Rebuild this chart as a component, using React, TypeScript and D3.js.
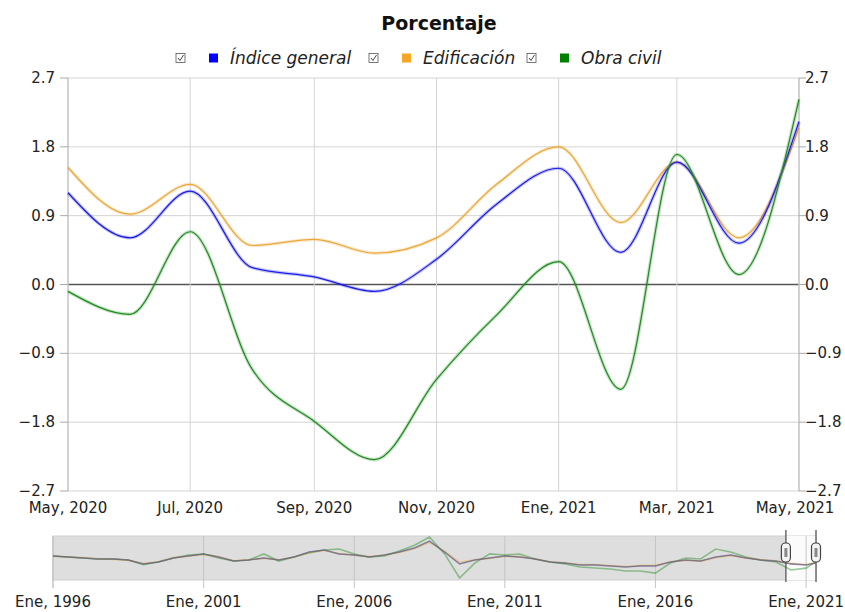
import React, { useEffect, useRef } from "react";
import * as d3 from "d3";

// main chart: monthly values, May 2020 .. May 2021
const months = [
  "2020-05", "2020-06", "2020-07", "2020-08", "2020-09", "2020-10", "2020-11",
  "2020-12", "2021-01", "2021-02", "2021-03", "2021-04", "2021-05",
];
const indiceGeneral = [1.2, 0.61, 1.22, 0.22, 0.1, -0.09, 0.33, 1.05, 1.52, 0.42, 1.6, 0.54, 2.13];
const edificacion = [1.53, 0.92, 1.31, 0.51, 0.59, 0.41, 0.61, 1.31, 1.8, 0.81, 1.6, 0.61, 2.05];
const obraCivil = [-0.09, -0.39, 0.69, -1.11, -1.79, -2.29, -1.24, -0.4, 0.3, -1.37, 1.7, 0.13, 2.42];

const yTicks = [-2.7, -1.8, -0.9, 0, 0.9, 1.8, 2.7];
const xTickLabels = ["May, 2020", "Jul, 2020", "Sep, 2020", "Nov, 2020", "Ene, 2021", "Mar, 2021", "May, 2021"];
const xTickMonths = ["2020-05", "2020-07", "2020-09", "2020-11", "2021-01", "2021-03", "2021-05"];

// navigator: semi-annual readings Jan 1996 .. Jan 2021, plus May 2021
const navMonths = [
  "1996-01", "1996-07", "1997-01", "1997-07", "1998-01", "1998-07", "1999-01", "1999-07",
  "2000-01", "2000-07", "2001-01", "2001-07", "2002-01", "2002-07", "2003-01", "2003-07",
  "2004-01", "2004-07", "2005-01", "2005-07", "2006-01", "2006-07", "2007-01", "2007-07",
  "2008-01", "2008-07", "2009-01", "2009-07", "2010-01", "2010-07", "2011-01", "2011-07",
  "2012-01", "2012-07", "2013-01", "2013-07", "2014-01", "2014-07", "2015-01", "2015-07",
  "2016-01", "2016-07", "2017-01", "2017-07", "2018-01", "2018-07", "2019-01", "2019-07",
  "2020-01", "2020-07", "2021-01", "2021-05",
];
const navGeneral = [5.2, 4.6, 4.0, 3.4, 3.4, 2.8, 0.5, 1.6, 4.0, 5.2, 6.4, 4.6, 2.2, 2.8, 4.0, 2.8, 4.6, 7.5, 8.7, 6.4, 5.8, 4.6, 5.8, 7.5, 9.9, 14.0, 7.5, 0.5, 2.8, 4.0, 5.2, 4.6, 3.4, 1.6, 1.0, -0.1, -0.1, -0.7, -1.3, -0.7, -0.7, 1.6, 2.8, 2.2, 4.6, 5.8, 4.0, 2.8, 2.2, 0.5, -0.1, 1.0];
const navEdif = [5.0, 4.5, 4.2, 3.6, 3.2, 2.6, 0.8, 1.8, 4.2, 5.0, 6.0, 4.8, 2.4, 3.0, 3.8, 3.0, 4.4, 7.2, 8.4, 6.6, 5.6, 4.8, 5.6, 7.2, 9.4, 13.2, 8.0, 1.5, 3.0, 3.8, 5.0, 4.8, 3.6, 1.8, 1.2, 0.2, 0.2, -0.4, -1.0, -0.4, -0.2, 1.8, 2.6, 2.0, 4.2, 5.4, 4.2, 3.0, 2.4, 0.8, 0.2, 1.2];
const navCivil = [5.2, 4.6, 4.0, 3.4, 3.4, 2.8, 0.0, 1.6, 4.0, 5.8, 6.4, 4.0, 2.2, 2.8, 6.4, 2.2, 4.6, 7.0, 8.7, 9.3, 6.4, 4.6, 5.2, 8.1, 11.5, 16.4, 6.4, -7.8, 1.0, 6.4, 5.8, 6.4, 3.4, 1.6, 0.5, -1.3, -1.9, -2.5, -3.7, -3.7, -4.9, 1.0, 4.0, 3.4, 9.3, 7.5, 4.6, 2.8, 1.6, -3.1, -2.0, 2.0];
const navTickLabels = ["Ene, 1996", "Ene, 2001", "Ene, 2006", "Ene, 2011", "Ene, 2016", "Ene, 2021"];
const navTickMonths = ["1996-01", "2001-01", "2006-01", "2011-01", "2016-01", "2021-01"];

const seriesNames = ["Índice general", "Edificación", "Obra civil"];
const seriesColors = ["#1a1ae6", "#eaa83a", "#1e8c1e"];
const legendColors = ["#0000ff", "#f5a623", "#008000"];

const FONT = "'DejaVu Sans', sans-serif";
const parse = d3.timeParse("%Y-%m");

export default function App() {
  const ref = useRef<SVGSVGElement>(null);

  useEffect(() => {
    const svg = d3.select(ref.current);
    svg.selectAll("*").remove();

    const left = 68, right = 799, top = 78, bottom = 491;
    const x = d3.scaleTime().domain([parse("2020-05")!, parse("2021-05")!]).range([left, right]);
    const y = d3.scaleLinear().domain([-2.7, 2.7]).range([bottom, top]);

    svg.append("text")
      .attr("x", 439).attr("y", 30)
      .attr("text-anchor", "middle")
      .style("font-family", FONT).style("font-size", "19px").style("font-weight", "bold")
      .style("fill", "#111")
      .text("Porcentaje");

    // legend
    const legend = svg.append("g");
    const legX = [176, 369, 527];
    seriesNames.forEach((name, i) => {
      const g = legend.append("g").attr("transform", `translate(${legX[i]},58)`);
      g.append("rect").attr("x", 0).attr("y", -4.5).attr("width", 9).attr("height", 9)
        .attr("fill", "#fff").attr("stroke", "#555").attr("stroke-width", 0.8);
      g.append("path").attr("d", "M2,0 L4,2.5 L7.5,-3").attr("fill", "none")
        .attr("stroke", "#333").attr("stroke-width", 0.9);
      g.append("rect").attr("x", 33).attr("y", -4.5).attr("width", 9).attr("height", 9)
        .attr("fill", legendColors[i]);
      g.append("text").attr("x", 54).attr("y", 6)
        .style("font-family", FONT).style("font-size", "17px").style("font-style", "italic")
        .style("fill", "#222").text(name);
    });

    // grid
    const grid = svg.append("g");
    grid.selectAll(".hg").data(yTicks).join("line")
      .attr("x1", left).attr("x2", right)
      .attr("y1", d => y(d)).attr("y2", d => y(d))
      .attr("stroke", d => (d === 0 ? "#555" : "#d4d4d4"))
      .attr("stroke-width", d => (d === 0 ? 1.5 : 1));
    grid.selectAll(".vg").data(xTickMonths).join("line")
      .attr("x1", d => x(parse(d)!)).attr("x2", d => x(parse(d)!))
      .attr("y1", top).attr("y2", bottom)
      .attr("stroke", "#d4d4d4");

    // left / right axes
    [left, right].forEach((ax, side) => {
      svg.append("line").attr("x1", ax).attr("x2", ax).attr("y1", top).attr("y2", bottom)
        .attr("stroke", "#bbb");
      svg.selectAll(null).data(yTicks).join("line")
        .attr("x1", side === 0 ? ax - 8 : ax).attr("x2", side === 0 ? ax : ax + 7)
        .attr("y1", d => y(d)).attr("y2", d => y(d)).attr("stroke", "#aaa");
      svg.selectAll(null).data(yTicks).join("text")
        .attr("x", side === 0 ? ax - 13 : ax + 6)
        .attr("y", d => y(d) + 5)
        .attr("text-anchor", side === 0 ? "end" : "start")
        .style("font-family", FONT).style("font-size", "15px").style("fill", "#222")
        .text(d => d3.format(".1f")(d));
    });

    svg.selectAll(".xl").data(xTickMonths).join("text")
      .attr("x", (d, i) => x(parse(d)!) + (i === xTickMonths.length - 1 ? -4 : 0))
      .attr("y", 513)
      .attr("text-anchor", "middle")
      .style("font-family", FONT).style("font-size", "15px").style("fill", "#222")
      .text((d, i) => xTickLabels[i]);

    // series
    const allSeries = [indiceGeneral, edificacion, obraCivil];
    const line = d3.line<number>()
      .x((d, i) => x(parse(months[i])!))
      .y(d => y(d))
      .curve(d3.curveMonotoneX);
    [1, 0, 2].forEach(k => {
      svg.append("path").attr("d", line(allSeries[k])).attr("fill", "none")
        .attr("stroke", seriesColors[k]).attr("stroke-opacity", 0.25).attr("stroke-width", 3.5);
      svg.append("path").attr("d", line(allSeries[k])).attr("fill", "none")
        .attr("stroke", seriesColors[k]).attr("stroke-width", 1.2);
    });

    // navigator
    const nl = 53, nr = 816, nt = 536, nb = 580;
    const nx = d3.scaleTime().domain([parse("1996-01")!, parse("2021-05")!]).range([nl, nr]);
    const ny = d3.scaleLinear().domain([-9, 17]).range([nb, nt]);
    const selL = nx(parse("2020-05")!);

    svg.append("rect").attr("x", nl).attr("y", nt).attr("width", nr - nl).attr("height", nb - nt)
      .attr("fill", "#dedede").attr("stroke", "#cfcfcf");
    svg.append("rect").attr("x", selL).attr("y", nt).attr("width", nr - selL).attr("height", nb - nt)
      .attr("fill", "#fbfbfb");
    svg.selectAll(".nvg").data(navTickMonths).join("line")
      .attr("x1", d => nx(parse(d)!)).attr("x2", d => nx(parse(d)!))
      .attr("y1", nt).attr("y2", nb + 8)
      .attr("stroke", "#c4c4c4");
    svg.append("line").attr("x1", nl).attr("x2", nl).attr("y1", nt).attr("y2", nb + 8).attr("stroke", "#c4c4c4");

    const navLine = d3.line<number>()
      .x((d, i) => nx(parse(navMonths[i])!))
      .y(d => ny(d));
    const navSeries = [navCivil, navEdif, navGeneral];
    const navCols = [seriesColors[2], seriesColors[1], "#3a3a9a"];
    navSeries.forEach((s, k) => {
      svg.append("path").attr("d", navLine(s)).attr("fill", "none")
        .attr("stroke", navCols[k]).attr("stroke-opacity", 0.45).attr("stroke-width", 1.6);
    });
    svg.append("path").attr("d", navLine(navGeneral)).attr("fill", "none")
      .attr("stroke", "#666").attr("stroke-opacity", 0.5).attr("stroke-width", 1);

    svg.selectAll(".nl").data(navTickMonths).join("text")
      .attr("x", d => nx(parse(d)!))
      .attr("y", 607)
      .attr("text-anchor", "middle")
      .style("font-family", FONT).style("font-size", "15px").style("fill", "#222")
      .text((d, i) => navTickLabels[i]);

    // handles
    [selL, nr].forEach(hx => {
      svg.append("line").attr("x1", hx).attr("x2", hx).attr("y1", 530).attr("y2", nb + 2)
        .attr("stroke", "#555").attr("stroke-width", 1.3);
      svg.append("rect").attr("x", hx - 4.5).attr("y", 543).attr("width", 9).attr("height", 19)
        .attr("rx", 4).attr("fill", "#f4f4f4").attr("stroke", "#444").attr("stroke-width", 1.2);
      svg.append("rect").attr("x", hx - 1.5).attr("y", 548).attr("width", 3).attr("height", 9)
        .attr("fill", "#888");
    });
  }, []);

  return (
    <div style={{ position: "absolute", left: 0, top: 0 }}>
      <svg ref={ref} width={845} height={612} style={{ display: "block", background: "#fff" }} />
    </div>
  );
}
